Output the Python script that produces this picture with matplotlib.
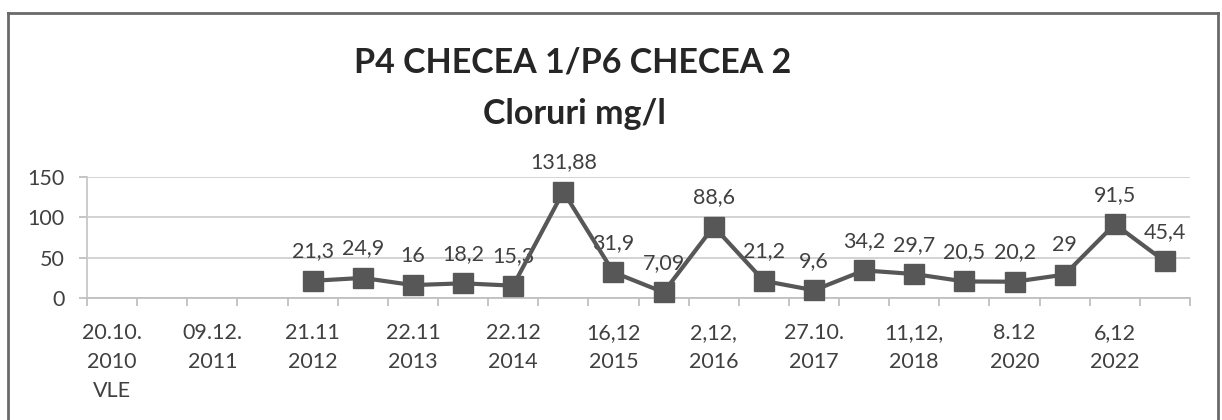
import matplotlib
matplotlib.use("Agg")
import matplotlib.pyplot as plt
from matplotlib.lines import Line2D
import numpy as np

# ---- data ----
n_categories = 22
label_positions = [0, 2, 4, 6, 8, 10, 12, 14, 16, 18, 20]
tick_labels = ["20.10.\n2010\nVLE", "09.12.\n2011", "21.11\n2012", "22.11\n2013",
               "22.12\n2014", "16,12\n2015", "2,12,\n2016", "27.10.\n2017",
               "11,12,\n2018", "8.12\n2020", "6,12\n2022"]
first_point = 4
values = [21.3, 24.9, 16, 18.2, 15.3, 131.88, 31.9, 7.09, 88.6, 21.2, 9.6,
          34.2, 29.7, 20.5, 20.2, 29, 91.5, 45.4]
title_line1 = "P4 CHECEA 1/P6 CHECEA 2"
title_line2 = "Cloruri mg/l"

plt.rcParams['font.family'] = ['Lato', 'DejaVu Sans']

W, H = 1222, 420
fig = plt.figure(figsize=(W / 100, H / 100), dpi=100)
fig.patch.set_facecolor('white')

ax_l, ax_r, ax_b, ax_t = 87, 1190, 298, 177
ax = fig.add_axes([ax_l / W, 1 - ax_b / H, (ax_r - ax_l) / W, (ax_b - ax_t) / H])
ax.set_facecolor('white')

xs = np.arange(first_point, first_point + len(values))
line_col = '#575757'
ax.plot(xs, values, color=line_col, lw=3, marker='s', ms=14.5,
        mfc=line_col, mec=line_col, zorder=5, clip_on=False)

for x, v in zip(xs, values):
    ax.annotate(f"{v:g}".replace('.', ','), (x, v), xytext=(0, 14),
                textcoords='offset points', ha='center', va='bottom',
                fontsize=15.5, color='#404040', zorder=3, annotation_clip=False)

ax.set_xlim(-0.5, n_categories - 0.5)
ax.set_ylim(0, 150)
ax.set_yticks([0, 50, 100, 150])
ax.grid(axis='y', color='#d0d0d0', lw=1.3, zorder=0)
ax.set_axisbelow(True)

ax.set_xticks(label_positions)
ax.set_xticklabels(tick_labels, fontsize=15.5, color='#404040', linespacing=1.55)
ax.set_xticks(np.arange(-0.5, n_categories, 1.0), minor=True)
ax.tick_params(axis='x', which='major', length=0, pad=18)
ax.tick_params(axis='x', which='minor', length=6, width=1.3, color='#c0c0c0')
ax.tick_params(axis='y', length=6, width=1.3, color='#c0c0c0', pad=10,
               labelsize=15.5, labelcolor='#404040')

for s in ['top', 'right']:
    ax.spines[s].set_visible(False)
ax.spines['left'].set_color('#c8c8c8')
ax.spines['left'].set_linewidth(1.3)
ax.spines['bottom'].set_color('#c0c0c0')
ax.spines['bottom'].set_linewidth(1.3)

fig.text(573 / W, 1 - 62 / H, title_line1, ha='center', va='center', fontsize=24.5,
         fontweight='bold', color='#262626')
fig.text(574 / W, 1 - 114 / H, title_line2, ha='center', va='center', fontsize=24.5,
         fontweight='bold', color='#262626')

# chart frame
fc = '#6a6a6a'
fig.add_artist(Line2D([8 / W, 8 / W], [0, 1 - 13 / H], transform=fig.transFigure, color=fc, lw=2))
fig.add_artist(Line2D([1218 / W, 1218 / W], [0, 1 - 13 / H], transform=fig.transFigure, color=fc, lw=2))
fig.add_artist(Line2D([8 / W, 1218 / W], [1 - 13 / H, 1 - 13 / H], transform=fig.transFigure, color=fc, lw=2))

fig.savefig('out.png', dpi=100, facecolor='white')
